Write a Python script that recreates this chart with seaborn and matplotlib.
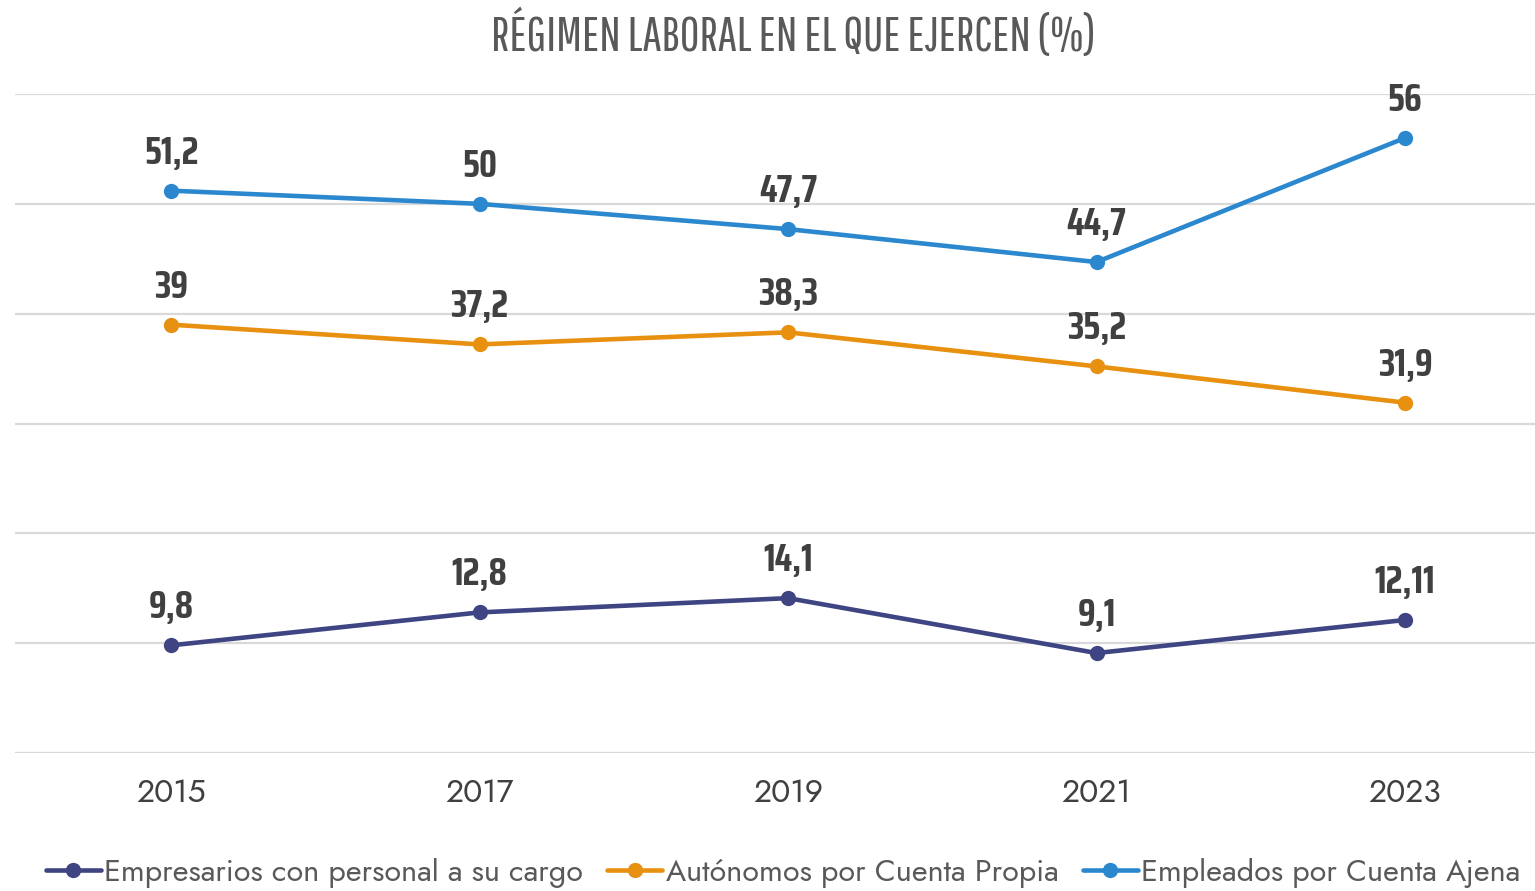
import matplotlib
matplotlib.use("Agg")
import matplotlib.pyplot as plt
import pandas as pd
import seaborn as sns

# data
years = [2015, 2017, 2019, 2021, 2023]
empresarios = [9.8, 12.8, 14.1, 9.1, 12.11]
autonomos = [39, 37.2, 38.3, 35.2, 31.9]
empleados = [51.2, 50, 47.7, 44.7, 56]
series_names = ['Empresarios con personal a su cargo',
                'Autónomos por Cuenta Propia',
                'Empleados por Cuenta Ajena']
label_text = {
    series_names[0]: ['9,8', '12,8', '14,1', '9,1', '12,11'],
    series_names[1]: ['39', '37,2', '38,3', '35,2', '31,9'],
    series_names[2]: ['51,2', '50', '47,7', '44,7', '56'],
}
colors = {series_names[0]: '#3F4482',
          series_names[1]: '#E8900F',
          series_names[2]: '#2B88CE'}

df = pd.DataFrame({
    'year': years * 3,
    'value': empresarios + autonomos + empleados,
    'serie': [series_names[0]] * 5 + [series_names[1]] * 5 + [series_names[2]] * 5,
})

sns.set_theme(style='white')
title_font = ['Pathway Gothic One', 'DejaVu Sans']
label_font = ['Saira Condensed', 'DejaVu Sans']
plain = ['Jost', 'DejaVu Sans']
plt.rcParams['font.family'] = plain

fig = plt.figure(figsize=(15.35, 8.91), dpi=100)
ax = fig.add_axes([15 / 1535, 1 - 753 / 891, 1520 / 1535, (753 - 94) / 891])

sns.lineplot(data=df, x='year', y='value', hue='serie', hue_order=series_names,
             palette=colors, marker='o', markersize=11, markeredgewidth=0,
             linewidth=3.3, ax=ax)

# value labels
for s in series_names:
    sel = df[df['serie'] == s]
    for x, y, t in zip(sel['year'], sel['value'], label_text[s]):
        ax.annotate(t, (x, y), xytext=(0, 27), textcoords='offset points',
                    ha='center', va='center', fontsize=27, fontweight='bold',
                    color='#404040', family=label_font)

ax.set_ylim(0, 60)
ax.set_xlim(2015 - 156 / 154.25, 2023 + 130 / 154.25)
ax.set_yticks(range(0, 61, 10))
ax.set_yticklabels([])
ax.set_xticks(years)
ax.set_xticklabels([str(y) for y in years])
ax.tick_params(axis='x', labelsize=23, labelcolor='#404040', length=0, pad=17)
ax.tick_params(axis='y', length=0)
ax.grid(True, axis='y', color='#D9D9D9', lw=1.6)
for sp in ax.spines.values():
    sp.set_visible(False)
ax.set_xlabel('')
ax.set_ylabel('')

handles, labels = ax.get_legend_handles_labels()
ax.legend(handles, labels, ncol=3, loc='center', bbox_to_anchor=(783 / 1535, 0.0202),
          bbox_transform=fig.transFigure, frameon=False, fontsize=22,
          labelcolor='#595959', handlelength=1.8, handletextpad=0.1,
          columnspacing=0.8)

fig.text(793 / 1535, 1 - 35 / 891, 'RÉGIMEN LABORAL EN EL QUE EJERCEN (%)',
         ha='center', va='center', fontsize=34.5, color='#595959', family=title_font)

plt.savefig('out.png', dpi=100)
